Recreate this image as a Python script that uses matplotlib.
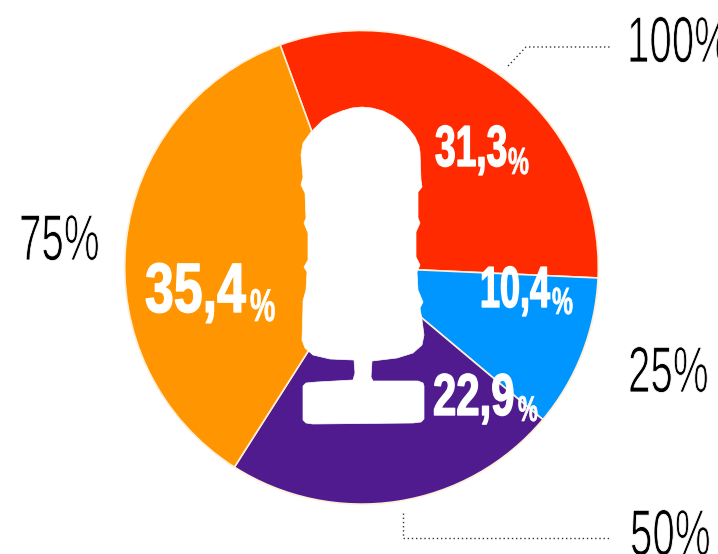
import matplotlib
matplotlib.use('Agg')
from matplotlib import pyplot as plt
from matplotlib.patches import Polygon
from matplotlib.patheffects import AbstractPathEffect
from matplotlib.transforms import Affine2D

W, H = 718, 554

shares = [31.3, 10.4, 22.9, 35.4]
share_colors = ['#FF2A00', '#0096FF', '#4F1B8F', '#FF9500']
scale_labels = ['100%', '75%', '50%', '25%']

FONT = 'Liberation Sans'


class SqueezeX(AbstractPathEffect):
    # narrows glyphs around a pixel x, the stroke changes their weight
    def __init__(self, factor, x0, stroke_color, stroke):
        super().__init__()
        self.factor = factor
        self.x0 = x0
        self.stroke_color = stroke_color
        self.stroke = stroke

    def draw_path(self, renderer, gc, tpath, affine, rgbFace=None):
        squeeze = Affine2D().translate(-self.x0, 0).scale(self.factor, 1).translate(self.x0, 0)
        gc0 = renderer.new_gc()
        gc0.copy_properties(gc)
        gc0.set_foreground(self.stroke_color)
        gc0.set_linewidth(self.stroke)
        renderer.draw_path(gc0, tpath, affine + squeeze, rgbFace)
        gc0.restore()


def put_text(x, baseline, text, px, squeeze, color='black', weight='normal', stroke_color='white', stroke=0.0):
    t = ax.text(x, H - baseline, text, fontsize=px * 72 / 100, family=FONT, color=color,
                weight=weight, ha='left', va='baseline', zorder=5)
    t.set_path_effects([SqueezeX(squeeze, x, stroke_color, stroke)])
    return t


def share_label(value, x, baseline, px, squeeze, pct_x, pct_baseline, pct_px):
    put_text(x, baseline, f'{value}'.replace('.', ','), px, squeeze, 'white', 'bold', 'white', 1.0)
    put_text(pct_x, pct_baseline, '%', pct_px, 0.62, 'white', 'bold', 'white', 0.5)


fig = plt.figure(figsize=(W / 100, H / 100), dpi=100)
ax = fig.add_axes([0, 0, 1, 1])

ax.pie(shares, colors=share_colors, startangle=110.1, counterclock=False,
       center=(361.5, H - 267.3), radius=236.8,
       wedgeprops={'edgecolor': '#FFEFD8', 'linewidth': 1.2})
ax.set_xlim(0, W)
ax.set_ylim(0, H)
ax.set_aspect('equal')
ax.axis('off')

# microphone silhouette on top of the pie centre
mic = [(362, 107), (372, 108), (383, 111), (393, 116), (402, 122), (409, 129), (415, 137), (419, 146),
       (420, 152), (421, 180), (422, 187), (418, 192), (418, 218), (420, 223), (416, 232), (416, 257),
       (420, 265), (417, 272), (418, 290), (423, 302), (420, 308), (422, 320), (424, 335), (422, 345),
       (413, 353), (397, 358), (372, 361), (371, 377), (373, 381), (418, 381), (423, 383), (424, 386), (424, 419),
       (421, 422), (413, 423), (313, 424), (306, 423), (303, 420), (303, 386), (306, 383), (317, 382), (353, 380), (355, 373), (354, 360),
       (330, 359), (313, 355), (305, 348), (302, 340), (303, 307), (303, 301), (306, 290), (307, 272),
       (304, 267), (308, 260), (308, 233), (304, 223), (306, 218), (305, 193), (301, 185), (303, 177),
       (301, 155), (303, 143), (311, 132), (323, 120), (332, 115), (342, 111), (352, 108)]
ax.add_patch(Polygon([(x, H - y) for x, y in mic], closed=True, fc='white', ec='white', lw=0.5, zorder=3))

# dotted leader lines
ax.plot([508, 526, 610], [H - 66, H - 47, H - 47], color='#333333', lw=1, ls=(0, (1, 2)))
ax.plot([403, 403, 610], [H - 513, H - 538, H - 538], color='#333333', lw=1, ls=(0, (1, 2)))

# scale labels, white stroke thins the letters
put_text(627, 62, scale_labels[0], 65, 0.62, stroke=0.6)
put_text(19, 260, scale_labels[1], 65, 0.62, stroke=0.6)
put_text(630, 555, scale_labels[2], 65, 0.62, stroke=0.6)
put_text(628, 392, scale_labels[3], 65, 0.62, stroke=0.6)

# share labels
share_label(shares[0], 435, 166, 58, 0.64, 508, 174, 38)
share_label(shares[1], 480, 307, 58, 0.62, 552, 314, 38)
share_label(shares[2], 433, 415, 59, 0.71, 518, 421, 36)
share_label(shares[3], 145, 312, 70, 0.74, 250, 321, 46)

fig.savefig('out.png', dpi=100)
